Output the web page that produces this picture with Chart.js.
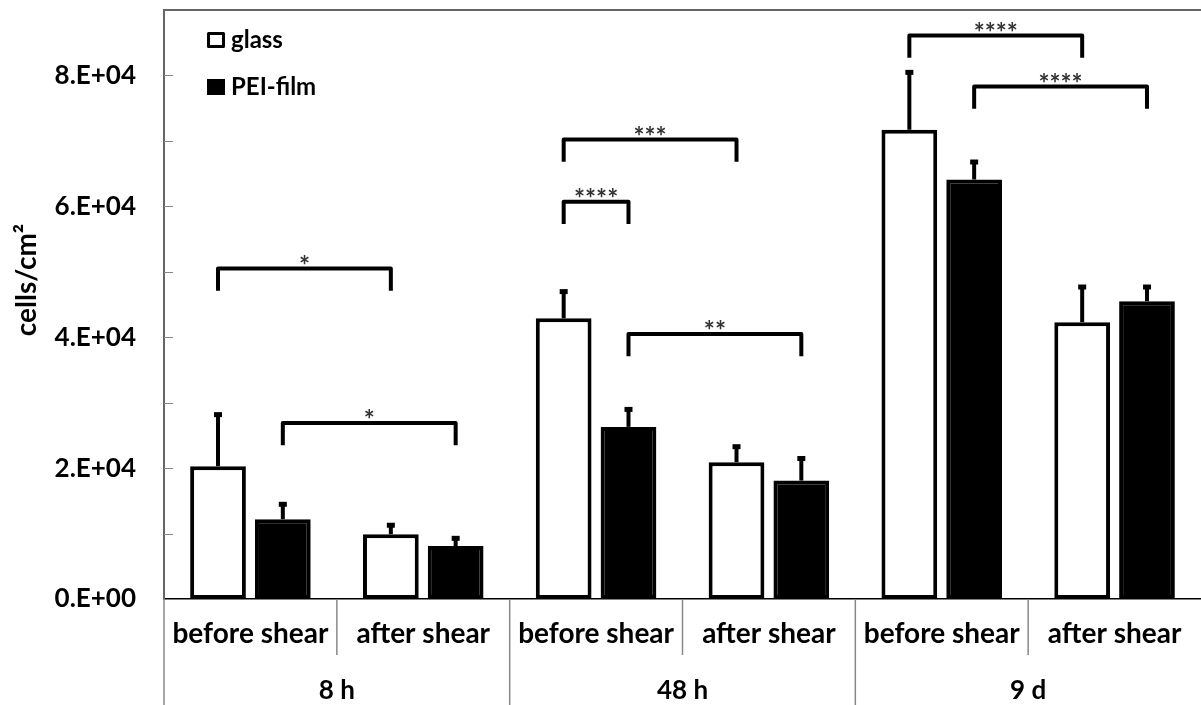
<!DOCTYPE html>
<html>
<head>
<meta charset="utf-8">
<script src="https://cdn.jsdelivr.net/npm/chart.js@4"></script>
<style>
  html, body { margin: 0; padding: 0; background: #fff; }
  #wrap { width: 1201px; height: 705px; }
</style>
</head>
<body>
<div id="wrap"><canvas id="cellChart"></canvas></div>
<script>
// values (cells/cm2)
const categories = ["before shear", "after shear", "before shear", "after shear", "before shear", "after shear"];
const groups = ["8 h", "48 h", "9 d"];
const glassMean = [20300, 9900, 42900, 20900, 71700, 42300];
const glassErr = [8100, 1600, 4300, 2600, 9000, 5600];
const peiMean = [12200, 8100, 26300, 18100, 64100, 45500];
const peiErr = [2500, 1400, 2900, 3600, 2900, 2400];

// significance brackets: [category, dataset] -> [category, dataset]
const bracketFrom = [[0, 0], [0, 1], [2, 0], [2, 0], [2, 1], [4, 0], [4, 1]];
const bracketTo = [[1, 0], [1, 1], [3, 0], [2, 1], [3, 1], [5, 0], [5, 1]];
const bracketY = [50500, 26900, 70200, 60700, 40500, 86100, 78300];
const bracketStars = ["*", "*", "***", "****", "**", "****", "****"];

const FONT = "Lato, 'Open Sans', sans-serif";

const extras = {
    id: "extras",
    afterDatasetsDraw(chart) {
        const ctx = chart.ctx;
        const y = chart.scales.y;
        const x = chart.scales.x;
        const area = chart.chartArea;
        ctx.save();

        // error bars (upper only)
        [glassErr, peiErr].forEach((errs, di) => {
            const meta = chart.getDatasetMeta(di);
            const means = chart.data.datasets[di].data;
            meta.data.forEach((bar, i) => {
                const top = y.getPixelForValue(means[i] + errs[i]);
                ctx.strokeStyle = "#000";
                ctx.lineWidth = 4;
                ctx.beginPath();
                ctx.moveTo(bar.x, bar.y);
                ctx.lineTo(bar.x, top);
                ctx.stroke();
                ctx.fillStyle = "#000";
                ctx.fillRect(bar.x - 4, top - 1, 8, 5);
            });
        });

        // brackets
        const drop = 3400;
        bracketY.forEach((v, k) => {
            const a = chart.getDatasetMeta(bracketFrom[k][1]).data[bracketFrom[k][0]];
            const b = chart.getDatasetMeta(bracketTo[k][1]).data[bracketTo[k][0]];
            const yy = y.getPixelForValue(v);
            const yl = y.getPixelForValue(v - drop);
            ctx.strokeStyle = "#000";
            ctx.lineWidth = 4;
            ctx.lineJoin = "round";
            ctx.beginPath();
            ctx.moveTo(a.x, yl);
            ctx.lineTo(a.x, yy);
            ctx.lineTo(b.x, yy);
            ctx.lineTo(b.x, yl);
            ctx.stroke();
            ctx.fillStyle = "#333";
            ctx.font = "bold 26px " + FONT;
            ctx.textAlign = "center";
            ctx.textBaseline = "alphabetic";
            ctx.fillText(bracketStars[k], (a.x + b.x) / 2, yy + 6);
        });

        // top frame line
        ctx.strokeStyle = "#666";
        ctx.lineWidth = 2;
        ctx.beginPath();
        ctx.moveTo(area.left, area.top);
        ctx.lineTo(area.right, area.top);
        ctx.stroke();

        // inward minor ticks on y axis
        ctx.strokeStyle = "#888";
        ctx.lineWidth = 1;
        y.ticks.forEach(t => {
            if (t.value <= 0 || t.value >= y.max) return;
            const py = Math.round(y.getPixelForValue(t.value)) + 0.5;
            ctx.beginPath();
            ctx.moveTo(area.left, py);
            ctx.lineTo(area.left + 9, py);
            ctx.stroke();
        });

        // category separators below the axis
        ctx.strokeStyle = "#888";
        ctx.lineWidth = 1.5;
        const base = area.bottom;
        for (let i = 0; i <= categories.length - 1; i++) {
            const px = i === 0 ? area.left : (x.getPixelForValue(i - 1) + x.getPixelForValue(i)) / 2;
            const long = i % 2 === 0;
            ctx.beginPath();
            ctx.moveTo(px, base);
            ctx.lineTo(px, long ? chart.height : base + 56);
            ctx.stroke();
        }

        // legend inside the plot
        chart.data.datasets.forEach((ds, di) => {
            const lx = area.left + 43;
            const ly = area.top + 22 + di * 47;
            ctx.fillStyle = ds.backgroundColor;
            ctx.fillRect(lx, ly, 18, 16);
            ctx.strokeStyle = "#000";
            ctx.lineWidth = 3;
            ctx.strokeRect(lx + 1.5, ly + 1.5, 15, 13);
            ctx.fillStyle = "#000";
            ctx.font = "bold 24px " + FONT;
            ctx.textAlign = "left";
            ctx.textBaseline = "middle";
            ctx.fillText(ds.label, lx + 24, ly + 8);
        });

        // y axis title
        ctx.save();
        ctx.translate(27, 280);
        ctx.rotate(-Math.PI / 2);
        ctx.fillStyle = "#000";
        ctx.font = "bold 28px " + FONT;
        ctx.textAlign = "center";
        ctx.textBaseline = "middle";
        ctx.fillText("cells/cm²", 0, 0);
        ctx.restore();

        ctx.restore();
    }
};

new Chart(document.getElementById("cellChart"), {
    type: "bar",
    data: {
        labels: categories,
        datasets: [
            {
                label: "glass",
                data: glassMean,
                backgroundColor: "#ffffff",
                borderColor: "#000000",
                borderWidth: 4,
                borderSkipped: false,
                categoryPercentage: 0.75,
                barPercentage: 0.86
            },
            {
                label: "PEI-film",
                data: peiMean,
                backgroundColor: "#000000",
                borderColor: "#000000",
                borderWidth: 4,
                borderSkipped: false,
                categoryPercentage: 0.75,
                barPercentage: 0.86
            }
        ]
    },
    options: {
        responsive: true,
        maintainAspectRatio: false,
        animation: false,
        layout: { padding: { top: 10, right: 0, left: 0, bottom: 0 } },
        plugins: {
            legend: { display: false },
            tooltip: { enabled: false }
        },
        scales: {
            x: {
                position: "bottom",
                grid: { display: false },
                border: { color: "#000", width: 1.5 },
                ticks: {
                    color: "#000",
                    font: { family: FONT, size: 28, weight: "bold" },
                    padding: 10,
                    maxRotation: 0,
                    autoSkip: false
                },
                afterFit: s => { s.height = 56; s.paddingLeft = 0; s.paddingRight = 0; }
            },
            x2: {
                type: "category",
                position: "bottom",
                labels: groups,
                offset: true,
                grid: { display: false },
                border: { display: false },
                ticks: {
                    color: "#000",
                    font: { family: FONT, size: 26, weight: "bold" },
                    padding: 12,
                    maxRotation: 0
                },
                afterFit: s => { s.height = 50; s.paddingLeft = 0; s.paddingRight = 0; }
            },
            y: {
                min: 0,
                max: 90000,
                grid: { display: false, drawTicks: false },
                border: { color: "#666", width: 2 },
                ticks: {
                    stepSize: 10000,
                    color: "#000",
                    padding: 28,
                    font: { family: FONT, size: 26, weight: "bold" },
                    callback: v => (v % 20000 === 0 ? (v / 10000) + ".E+0" + (v === 0 ? "0" : "4") : "")
                },
                afterFit: s => { s.width = 164; s.paddingTop = 0; s.paddingBottom = 0; }
            }
        }
    },
    plugins: [extras]
});
</script>
</body>
</html>
